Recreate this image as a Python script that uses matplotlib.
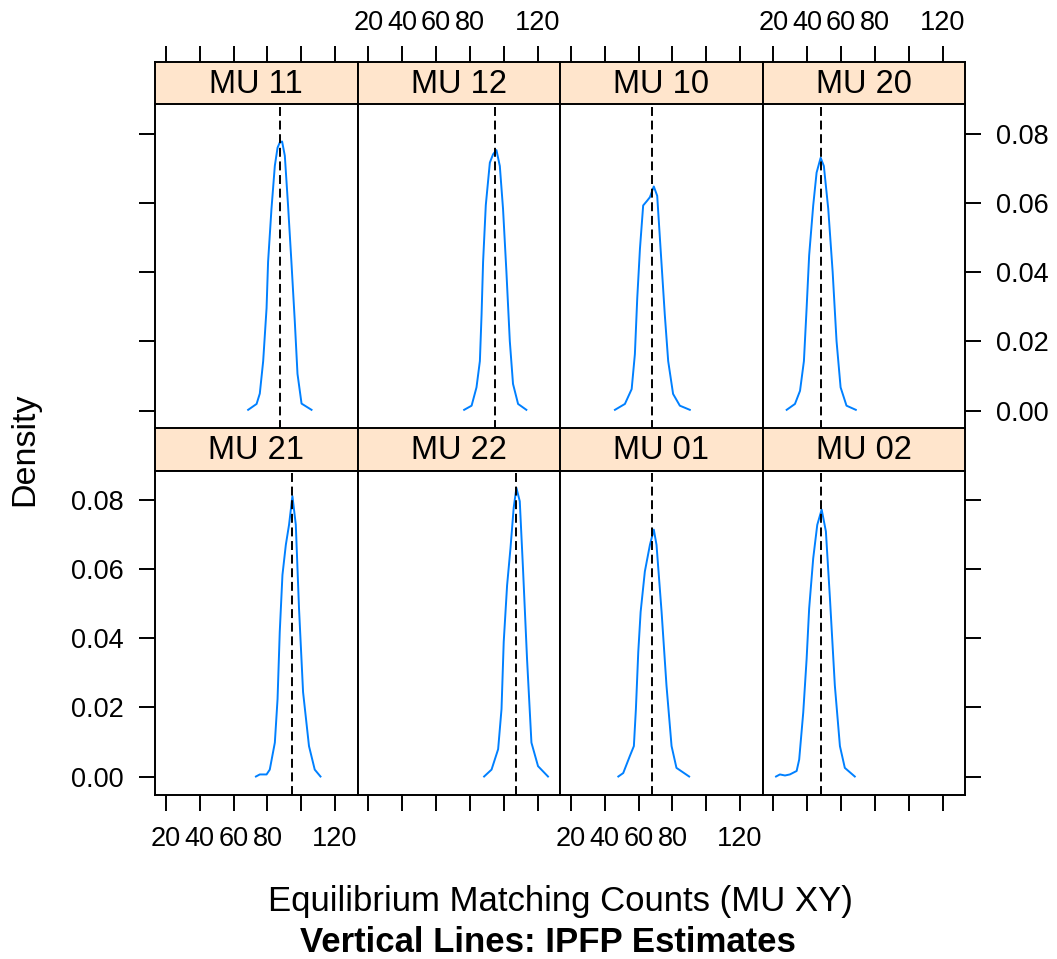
import numpy as np
import matplotlib.pyplot as plt

plt.rcParams['font.family'] = ['Liberation Sans', 'DejaVu Sans']

# panel order as laid out: top row then bottom row
panels = ['MU 11', 'MU 12', 'MU 10', 'MU 20', 'MU 21', 'MU 22', 'MU 01', 'MU 02']
ipfp = [87.3, 94.6, 68.0, 48.1, 94.6, 107.5, 68.0, 47.9]

# density curves
mu11_x = [68.6, 73.6, 75.5, 77.5, 79.5, 80.4, 82.4, 84.4, 86.0, 87.3, 88.7, 90.3, 92.2, 94.2, 96.2, 97.8, 100.2, 106.1]
mu11_y = [0.0002, 0.0019, 0.0049, 0.0143, 0.0296, 0.0430, 0.0583, 0.0708, 0.0760, 0.0775, 0.0778, 0.0737, 0.0594, 0.0430, 0.0258, 0.0106, 0.0020, 0.0002]
mu12_x = [76.6, 81.0, 83.9, 85.9, 86.9, 87.8, 89.4, 91.8, 93.7, 95.7, 97.7, 99.6, 101.6, 103.6, 105.5, 108.5, 113.4]
mu12_y = [0.0002, 0.0014, 0.0067, 0.0143, 0.0278, 0.0430, 0.0594, 0.0717, 0.0741, 0.0753, 0.0707, 0.0583, 0.0401, 0.0201, 0.0077, 0.0019, 0.0002]
mu10_x = [46.0, 51.9, 55.9, 57.8, 59.2, 60.8, 62.7, 65.1, 66.7, 69.0, 71.0, 73.0, 75.5, 77.5, 80.4, 84.4, 90.3]
mu10_y = [0.0002, 0.0019, 0.0062, 0.0163, 0.0325, 0.0468, 0.0593, 0.0607, 0.0617, 0.0648, 0.0621, 0.0468, 0.0277, 0.0143, 0.0048, 0.0014, 0.0002]
mu20_x = [27.8, 32.7, 35.7, 38.0, 39.6, 41.1, 43.5, 45.5, 47.9, 49.8, 52.4, 55.0, 57.3, 59.7, 63.2, 68.7]
mu20_y = [0.0002, 0.0019, 0.0057, 0.0143, 0.0296, 0.0449, 0.0593, 0.0688, 0.0731, 0.0707, 0.0583, 0.0401, 0.0201, 0.0067, 0.0014, 0.0002]
mu21_x = [73.2, 75.5, 79.5, 81.4, 84.4, 86.0, 87.3, 88.9, 90.9, 92.8, 94.8, 96.8, 98.7, 101.1, 104.6, 108.0, 111.4]
mu21_y = [0.0000, 0.0006, 0.0006, 0.0020, 0.0098, 0.0224, 0.0418, 0.0583, 0.0670, 0.0728, 0.0811, 0.0728, 0.0486, 0.0244, 0.0088, 0.0020, 0.0000]
mu22_x = [88.4, 92.8, 96.7, 98.7, 100.0, 102.0, 104.0, 105.9, 107.5, 109.5, 111.4, 113.8, 116.4, 120.3, 126.2]
mu22_y = [0.0000, 0.0020, 0.0079, 0.0195, 0.0389, 0.0553, 0.0660, 0.0777, 0.0835, 0.0796, 0.0602, 0.0340, 0.0098, 0.0030, 0.0000]
mu01_x = [48.0, 50.9, 54.8, 57.2, 58.4, 59.8, 61.2, 63.7, 66.7, 69.0, 70.6, 73.6, 76.5, 79.5, 82.4, 89.9]
mu01_y = [0.0000, 0.0010, 0.0059, 0.0088, 0.0195, 0.0360, 0.0476, 0.0593, 0.0670, 0.0714, 0.0670, 0.0476, 0.0263, 0.0088, 0.0025, 0.0000]
mu02_x = [21.5, 23.8, 26.8, 29.7, 33.7, 35.2, 37.6, 39.6, 41.1, 43.5, 45.9, 48.5, 51.0, 53.4, 56.3, 59.3, 62.2, 68.1]
mu02_y = [0.0000, 0.0006, 0.0003, 0.0006, 0.0016, 0.0049, 0.0185, 0.0340, 0.0486, 0.0631, 0.0728, 0.0772, 0.0709, 0.0515, 0.0263, 0.0088, 0.0025, 0.0000]

curves = [(mu11_x, mu11_y), (mu12_x, mu12_y), (mu10_x, mu10_y), (mu20_x, mu20_y),
          (mu21_x, mu21_y), (mu22_x, mu22_y), (mu01_x, mu01_y), (mu02_x, mu02_y)]

x_ticks = [20, 40, 60, 80, 100, 120]
x_labels = ['20', '40', '60', '80', '', '120']
y_ticks = [0.00, 0.02, 0.04, 0.06, 0.08]
y_labels = ['0.00', '0.02', '0.04', '0.06', '0.08']

W, H = 1057, 959
fig = plt.figure(figsize=(W / 100, H / 100), dpi=100)

col_left = [155, 357.5, 560, 762.5]
col_w = 202.5
strip_top = [62, 428]
strip_h = 42.5
panel_h = 324

xlim = (13.5, 133.3)
ylim = (-0.0052, 0.0885)
lw = 1.4
tick_fs = 19.5


def rect(x0, y0, w, h):
    return [x0 / W, 1 - (y0 + h) / H, w / W, h / H]


for i, name in enumerate(panels):
    row, col = divmod(i, 4)
    x0 = col_left[col]
    ys = strip_top[row]
    strip = fig.add_axes(rect(x0, ys, col_w, strip_h))
    ax = fig.add_axes(rect(x0, ys + strip_h, col_w, panel_h))

    strip.set_facecolor('#ffe5cc')
    strip.set_xlim(xlim)
    strip.set_yticks([])
    strip.text(0.5, 0.47, name, ha='center', va='center', fontsize=23.5, transform=strip.transAxes)

    cx, cy = curves[i]
    ax.plot(cx, cy, color='#0080ff', lw=lw)
    ax.axvline(ipfp[i], color='black', lw=lw, linestyle=(0, (4.6, 2.4)))
    ax.set_xlim(xlim)
    ax.set_ylim(ylim)

    for a in (ax, strip):
        for s in a.spines.values():
            s.set_linewidth(lw)

    # x ticks: top row above strips, bottom row below panels
    if row == 0:
        ax.set_xticks([])
        strip.set_xticks(x_ticks)
        strip.xaxis.tick_top()
        strip.tick_params(axis='x', direction='out', length=11.5, width=lw, pad=7, labelsize=tick_fs)
        strip.set_xticklabels(x_labels if col in (1, 3) else [''] * 6)
    else:
        strip.set_xticks([])
        ax.set_xticks(x_ticks)
        ax.tick_params(axis='x', direction='out', length=11.5, width=lw, pad=11, labelsize=tick_fs)
        ax.set_xticklabels(x_labels if col in (0, 2) else [''] * 6)

    # y ticks on outer columns
    if col == 0:
        ax.set_yticks(y_ticks)
        ax.tick_params(axis='y', direction='out', length=11.5, width=lw, pad=11, labelsize=tick_fs)
        ax.set_yticklabels(y_labels if row == 1 else [''] * 5)
    elif col == 3:
        ax.set_yticks(y_ticks)
        ax.yaxis.tick_right()
        ax.tick_params(axis='y', direction='out', length=11.5, width=lw, pad=11, labelsize=tick_fs)
        ax.set_yticklabels(y_labels if row == 0 else [''] * 5)
    else:
        ax.set_yticks([])

fig.text(560 / W, 1 - 911 / H, 'Equilibrium Matching Counts (MU XY)', ha='center', va='baseline', fontsize=25)
fig.text(548 / W, 1 - 952 / H, 'Vertical Lines: IPFP Estimates', ha='center', va='baseline',
         fontsize=25, fontweight='bold')
fig.text(25 / W, 1 - 449 / H, 'Density', ha='center', va='center', rotation=90, fontsize=24.5)

fig.savefig('out.png', dpi=100)
